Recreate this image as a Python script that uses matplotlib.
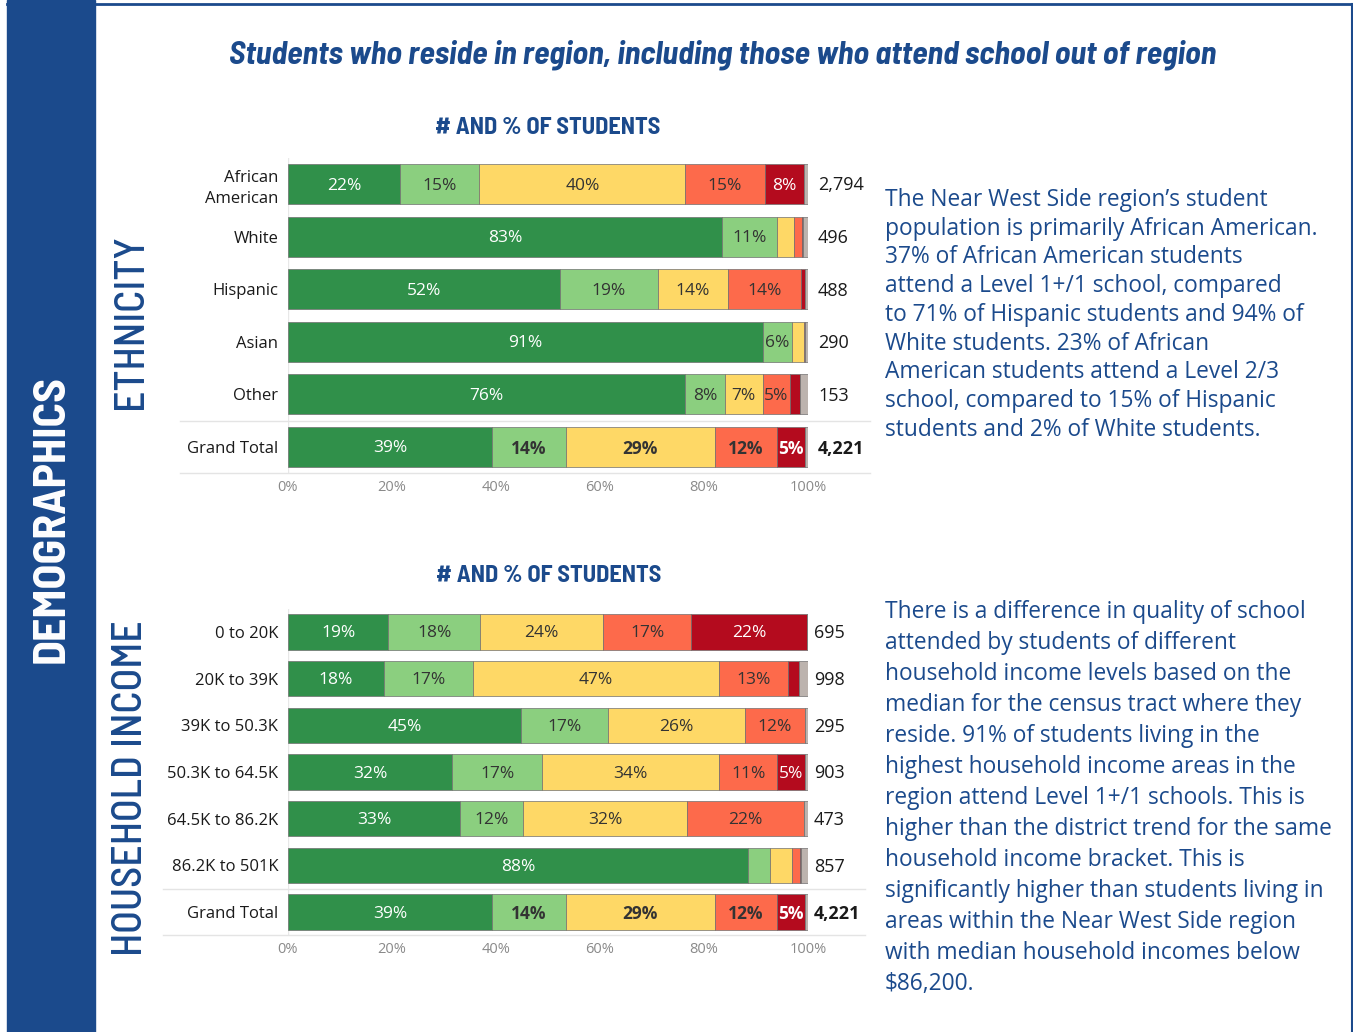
import matplotlib
matplotlib.use("Agg")
import matplotlib.pyplot as plt
from matplotlib.patches import Rectangle
from matplotlib.lines import Line2D

# ---- data (percent of students by school level) ----
eth_labels = ['African\nAmerican', 'White', 'Hispanic', 'Asian', 'Other', 'Grand Total']
eth_counts = [2794, 496, 488, 290, 153, 4221]
eth_lvl1p = [21.6, 83.4, 52.3, 91.4, 76.4, 39.2]
eth_lvl1 = [15.2, 10.7, 18.8, 5.5, 7.6, 14.2]
eth_lvl2p = [39.6, 3.3, 13.6, 2.3, 7.3, 28.7]
eth_lvl2 = [15.3, 1.4, 14.0, 0.3, 5.2, 12.0]
eth_lvl3 = [7.6, 0.2, 0.8, 0.0, 2.0, 5.4]
eth_na = [0.7, 1.0, 0.5, 0.5, 1.5, 0.5]

inc_labels = ['0 to 20K', '20K to 39K', '39K to 50.3K', '50.3K to 64.5K',
              '64.5K to 86.2K', '86.2K to 501K', 'Grand Total']
inc_counts = [695, 998, 295, 903, 473, 857, 4221]
inc_lvl1p = [19.3, 18.4, 44.8, 31.6, 33.1, 88.4, 39.2]
inc_lvl1 = [17.7, 17.1, 16.8, 17.3, 12.1, 4.2, 14.2]
inc_lvl2p = [23.6, 47.4, 26.2, 34.0, 31.6, 4.3, 28.7]
inc_lvl2 = [16.9, 13.2, 11.6, 11.2, 22.4, 1.5, 12.0]
inc_lvl3 = [22.4, 2.2, 0.0, 5.4, 0.1, 0.2, 5.4]
inc_na = [0.1, 1.7, 0.6, 0.5, 0.7, 1.4, 0.5]

tick_vals = [0, 20, 40, 60, 80, 100]

texto1 = ["The Near West Side region\u2019s student",
          "population is primarily African American.",
          "37% of African American students",
          "attend a Level 1+/1 school, compared",
          "to 71% of Hispanic students and 94% of",
          "White students. 23% of African",
          "American students attend a Level 2/3",
          "school, compared to 15% of Hispanic",
          "students and 2% of White students."]
texto2 = ["There is a difference in quality of school",
          "attended by students of different",
          "household income levels based on the",
          "median for the census tract where they",
          "reside. 91% of students living in the",
          "highest household income areas in the",
          "region attend Level 1+/1 schools. This is",
          "higher than the district trend for the same",
          "household income bracket. This is",
          "significantly higher than students living in",
          "areas within the Near West Side region",
          "with median household incomes below",
          "$86,200."]

colores = ['#30904a', '#8bcf7f', '#fed866', '#fd6a4b', '#b40b1e', '#bcb3ae']
txt_col = ['white', '#333333', '#333333', '#333333', 'white', '#333333']
azul = '#1b4a8c'
fuente = ['Open Sans', 'DejaVu Sans']
narrow = ['Barlow Semi Condensed', 'DejaVu Sans']

W, H = 1353, 1032
fig = plt.figure(figsize=(W / 100, H / 100), dpi=100)
fig.patch.set_facecolor('white')


def fx(px):
    return px / W


def fy(py):
    return 1 - py / H


# marco y banda lateral
fig.add_artist(Rectangle((fx(7), 0), fx(88), 1, color=azul, transform=fig.transFigure))
fig.add_artist(Line2D([fx(7), fx(1352)], [fy(4), fy(4)], color=azul, lw=2, transform=fig.transFigure))
fig.add_artist(Line2D([fx(1352), fx(1352)], [fy(4), 0], color=azul, lw=1.5, transform=fig.transFigure))

fig.text(fx(52), fy(519), 'DEMOGRAPHICS', color='white', rotation=90, ha='center', va='center',
         fontsize=33, fontweight='bold', family=narrow)
fig.text(fx(131), fy(322), 'ETHNICITY', color=azul, rotation=90, ha='center', va='center',
         fontsize=30, fontweight='medium', family=narrow)
fig.text(fx(131), fy(788), 'HOUSEHOLD INCOME', color=azul, rotation=90, ha='center', va='center',
         fontsize=30, fontweight='medium', family=narrow)

fig.text(fx(723), fy(55), 'Students who reside in region, including those who attend school out of region',
         color=azul, ha='center', va='center', fontsize=23.2, fontweight='bold', style='italic', family=narrow)
fig.text(fx(548), fy(128), '# AND % OF STUDENTS', color=azul, ha='center', va='center',
         fontsize=17.5, fontweight='bold', family=narrow)
fig.text(fx(549), fy(576), '# AND % OF STUDENTS', color=azul, ha='center', va='center',
         fontsize=17.5, fontweight='bold', family=narrow)

for i, linea in enumerate(texto1):
    fig.text(fx(885), fy(200 + i * 28.7), linea, color=azul, ha='left', va='center',
             fontsize=16.4, family=fuente)
for i, linea in enumerate(texto2):
    fig.text(fx(885), fy(612 + i * 31.0), linea, color=azul, ha='left', va='center',
             fontsize=16.4, family=fuente)


def grafica(rect, labels, counts, series, linea_x, count_off):
    ax = fig.add_axes(rect)
    n = len(labels)
    y = list(range(n))
    izq = [0.0] * n
    for k, serie in enumerate(series):
        ax.barh(y, serie, left=izq, height=0.76, color=colores[k], edgecolor='#6f6f6f', linewidth=0.5)
        for i in range(n):
            v = serie[i]
            if v >= 4.5:
                gt = labels[i] == 'Grand Total'
                ax.annotate(f"{v:.0f}%", (izq[i] + v / 2, i), xytext=(0, -1.5), textcoords='offset pixels',
                            ha='center', va='center', color=txt_col[k], fontsize=12.5, family=fuente,
                            fontweight='bold' if gt and k != 0 else 'normal')
        izq = [a + b for a, b in zip(izq, serie)]
    for i in range(n):
        gt = labels[i] == 'Grand Total'
        ax.annotate(f"{counts[i]:,}", (100, i), xytext=(count_off, -1.5), textcoords='offset pixels',
                    ha='left', va='center', fontsize=13, color='#1a1a1a', family=fuente,
                    fontweight='bold' if gt else 'normal', annotation_clip=False)
    ax.set_xlim(0, 100)
    ax.set_ylim(n - 0.5, -0.5)
    ax.set_yticks(y)
    ax.set_yticklabels(labels, fontsize=12, color='#1a1a1a', family=fuente, ha='right',
                       multialignment='right', linespacing=1.45)
    ax.set_xticks(tick_vals)
    ax.set_xticklabels([f"{t}%" for t in tick_vals], fontsize=10.5, color='#8a8a8a', family=fuente)
    ax.tick_params(axis='y', length=0, pad=7)
    ax.tick_params(axis='x', length=0, pad=5)
    for s in ax.spines.values():
        s.set_visible(False)
    ax.axvline(0, color='#e8e8e8', lw=1, zorder=0)
    ax.plot(linea_x, [n - 1.5, n - 1.5], color='#e4e4e4', lw=1, clip_on=False)
    ax.plot(linea_x, [n - 0.5, n - 0.5], color='#e4e4e4', lw=1, clip_on=False)
    return ax


eth_series = [eth_lvl1p, eth_lvl1, eth_lvl2p, eth_lvl2, eth_lvl3, eth_na]
inc_series = [inc_lvl1p, inc_lvl1, inc_lvl2p, inc_lvl2, inc_lvl3, inc_na]

grafica([fx(288), fy(473.3), 520 / W, 315.6 / H], eth_labels, eth_counts, eth_series,
        [-20.8, 111.9], 10)
grafica([fx(288), fy(935.4), 520 / W, 326.8 / H], inc_labels, inc_counts, inc_series,
        [-24.0, 111.0], 6)

fig.savefig('out.png', dpi=100)
